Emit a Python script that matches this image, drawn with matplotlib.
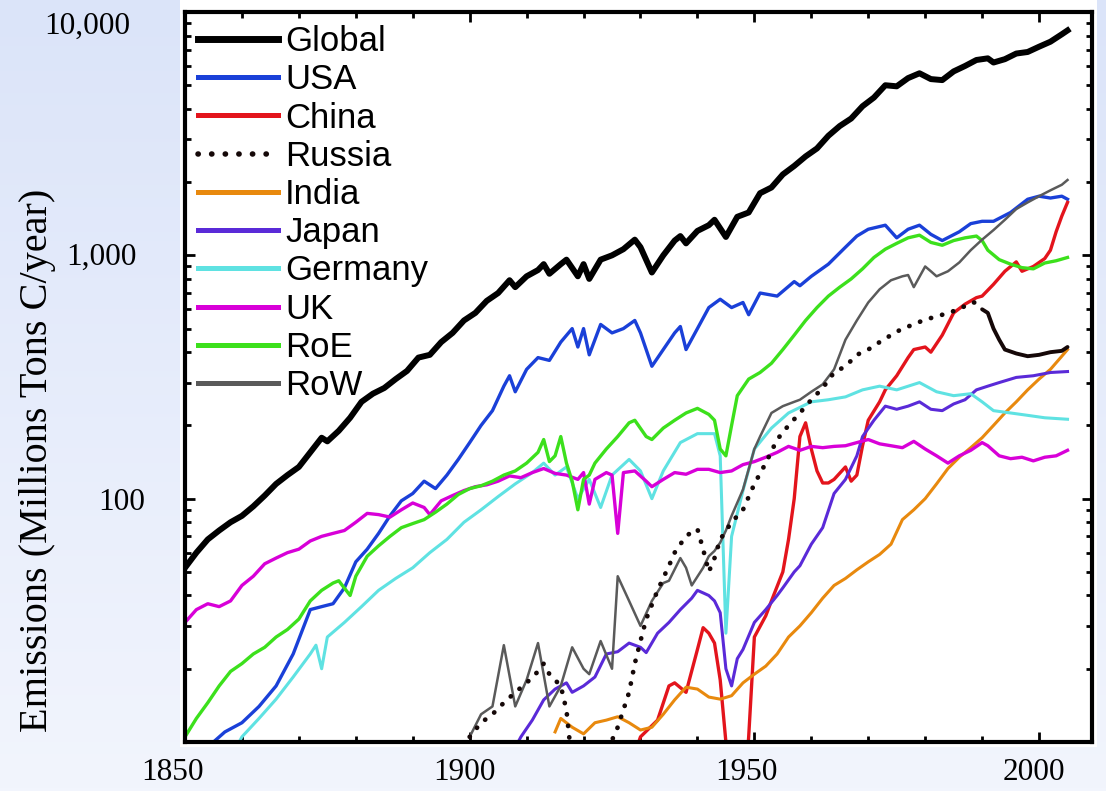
import numpy as np
import matplotlib
matplotlib.use("Agg")
import matplotlib.pyplot as plt
from matplotlib.ticker import FixedLocator, MultipleLocator, LogLocator, NullFormatter
from matplotlib.transforms import ScaledTranslation
from matplotlib.patches import Rectangle

# ---------------- fossil-fuel carbon emissions, MtC per year ----------------
global_years = [1850, 1852, 1854, 1856, 1858, 1860, 1862, 1864, 1866, 1868, 1870, 1872, 1874, 1875,
                1877, 1879, 1881, 1883, 1885, 1887, 1889, 1891, 1893, 1895, 1897, 1899, 1901, 1903,
                1905, 1907, 1908, 1910, 1912, 1913, 1914, 1916, 1917, 1919, 1920, 1921, 1923, 1925,
                1927, 1929, 1930, 1932, 1934, 1936, 1937, 1938, 1940, 1942, 1943, 1945, 1947, 1949,
                1951, 1953, 1955, 1957, 1959, 1961, 1963, 1965, 1967, 1969, 1971, 1973, 1975, 1977,
                1979, 1981, 1983, 1985, 1987, 1989, 1991, 1992, 1994, 1996, 1998, 2000, 2002, 2004, 2005]
global_vals = [52, 60, 68, 74, 80, 85, 93, 103, 115, 125, 135, 155, 178, 172,
               190, 215, 250, 270, 285, 310, 335, 380, 390, 440, 480, 540, 580, 650,
               700, 790, 740, 820, 870, 920, 840, 920, 960, 820, 920, 800, 960, 1000,
               1060, 1160, 1080, 850, 1000, 1150, 1200, 1120, 1260, 1330, 1400, 1190, 1440, 1500,
               1800, 1900, 2150, 2330, 2550, 2750, 3100, 3400, 3650, 4100, 4450, 5000, 4950, 5350,
               5600, 5300, 5250, 5700, 6000, 6350, 6450, 6200, 6400, 6750, 6850, 7200, 7550, 8100, 8400]

usa_years = [1853, 1855, 1857, 1860, 1863, 1866, 1869, 1872, 1874, 1876, 1878, 1880, 1882, 1884,
             1886, 1888, 1890, 1892, 1894, 1896, 1898, 1900, 1902, 1904, 1906, 1907, 1908, 1910,
             1912, 1914, 1916, 1918, 1919, 1920, 1921, 1923, 1925, 1927, 1929, 1930, 1932, 1934,
             1936, 1937, 1938, 1940, 1942, 1944, 1946, 1948, 1949, 1951, 1954, 1957, 1958, 1960,
             1963, 1966, 1968, 1970, 1973, 1975, 1977, 1979, 1981, 1983, 1986, 1988, 1990, 1992,
             1995, 1998, 2000, 2002, 2004, 2005]
usa_vals = [9, 10, 11, 12, 14, 17, 23, 35, 36, 37, 43, 55, 62, 72,
            85, 98, 105, 118, 110, 125, 145, 170, 200, 230, 290, 320, 275, 340,
            380, 370, 440, 500, 420, 500, 390, 520, 480, 500, 540, 480, 350, 410,
            480, 510, 410, 500, 610, 660, 610, 640, 570, 700, 680, 780, 750, 820,
            920, 1080, 1200, 1280, 1330, 1180, 1280, 1330, 1220, 1150, 1250, 1350, 1380, 1380,
            1500, 1700, 1750, 1720, 1750, 1700]

china_years = [1929, 1930, 1933, 1935, 1936, 1938, 1940, 1941, 1942, 1943, 1944, 1945, 1946, 1948,
               1949, 1950, 1952, 1953, 1955, 1956, 1957, 1958, 1959, 1960, 1961, 1962, 1963, 1964,
               1966, 1967, 1968, 1969, 1970, 1972, 1973, 1975, 1977, 1978, 1980, 1981, 1983, 1985,
               1987, 1989, 1990, 1992, 1994, 1996, 1997, 1999, 2001, 2002, 2003, 2004, 2005]
china_vals = [9, 10.5, 12.3, 17, 17.5, 16, 24, 29.5, 28, 25.5, 18, 10, 5, 5,
              10.5, 27, 33, 38, 50, 68, 100, 180, 205, 160, 130, 116, 116, 120,
              135, 118, 125, 165, 210, 250, 280, 320, 380, 410, 420, 400, 470, 580,
              630, 670, 680, 760, 860, 940, 860, 900, 970, 1050, 1250, 1450, 1650]

russia_years = [1900, 1902, 1904, 1906, 1908, 1910, 1912, 1913, 1914, 1916, 1917, 1918, 1921, 1924,
                1926, 1928, 1929, 1930, 1931, 1933, 1935, 1936, 1937, 1938, 1939, 1940, 1941, 1942,
                1943, 1944, 1946, 1948, 1950, 1952, 1954, 1956, 1958, 1960, 1962, 1964, 1966, 1968,
                1970, 1972, 1974, 1976, 1978, 1980, 1982, 1984, 1986, 1988, 1989, 1990, 1991, 1992,
                1993, 1994, 1996, 1998, 2000, 2002, 2004, 2005]
russia_vals = [10.5, 12, 13, 14.5, 16, 17.5, 19.5, 21, 19, 17, 13.5, 8, 6, 9,
               11.5, 16, 21, 26, 32, 42, 53, 60, 65, 70, 73, 75, 62, 50,
               57, 68, 80, 90, 115, 140, 175, 200, 225, 255, 285, 330, 350, 390,
               410, 440, 470, 500, 520, 545, 560, 580, 600, 640, 640, 600, 580, 500,
               450, 410, 395, 385, 390, 400, 405, 420]

india_years = [1915, 1916, 1918, 1920, 1922, 1924, 1926, 1928, 1930, 1932, 1934, 1936, 1938, 1940,
               1942, 1944, 1946, 1948, 1950, 1952, 1954, 1956, 1958, 1960, 1962, 1964, 1966, 1968,
               1970, 1972, 1974, 1976, 1978, 1980, 1982, 1984, 1986, 1988, 1990, 1992, 1994, 1996,
               1998, 2000, 2002, 2004, 2005]
india_vals = [11, 12.5, 11.5, 10.8, 12, 12.3, 12.7, 12, 11.2, 11.5, 13, 14.9, 16.8, 16.5,
              15.3, 15, 15.5, 17.5, 19, 20.5, 23, 27, 30, 34, 39, 44, 47, 51,
              55, 59, 65, 82, 90, 100, 115, 133, 148, 162, 178, 200, 225, 250,
              280, 310, 340, 385, 410]

japan_years = [1908, 1909, 1911, 1913, 1915, 1917, 1918, 1920, 1922, 1924, 1926, 1928, 1930, 1931,
               1933, 1935, 1937, 1939, 1940, 1941, 1942, 1943, 1944, 1945, 1946, 1947, 1948, 1950,
               1952, 1954, 1955, 1957, 1958, 1960, 1962, 1964, 1966, 1968, 1969, 1971, 1973, 1975,
               1977, 1979, 1981, 1983, 1985, 1987, 1989, 1991, 1993, 1996, 1999, 2002, 2005]
japan_vals = [9.5, 10.5, 12.3, 14.9, 16.5, 17.5, 16, 17, 18.5, 23, 23.5, 25.5, 24.5, 23.3,
              28, 31, 35, 39, 42, 41, 40, 38, 34, 20, 17, 22, 24, 31,
              35, 40, 43, 50, 53, 65, 76, 105, 120, 150, 180, 210, 240, 233,
              240, 250, 233, 230, 245, 255, 280, 290, 300, 315, 320, 330, 333]

germany_years = [1859, 1860, 1863, 1866, 1869, 1872, 1873, 1874, 1875, 1878, 1881, 1884, 1887, 1890,
                 1893, 1896, 1899, 1902, 1905, 1908, 1911, 1913, 1915, 1917, 1919, 1921, 1923, 1925,
                 1928, 1930, 1932, 1934, 1937, 1940, 1943, 1944, 1945, 1946, 1948, 1950, 1953, 1956,
                 1960, 1963, 1966, 1969, 1972, 1975, 1979, 1982, 1985, 1988, 1990, 1992, 1995, 1998,
                 2001, 2005]
germany_vals = [9.5, 10.5, 12.5, 15, 18.5, 23, 25, 20, 27, 31, 36, 42, 47, 52,
                60, 68, 80, 90, 102, 115, 128, 140, 125, 135, 100, 120, 92, 125,
                145, 130, 100, 130, 170, 185, 185, 150, 28, 70, 108, 160, 195, 225,
                250, 255, 262, 280, 290, 280, 300, 275, 265, 270, 250, 230, 225, 220,
                215, 212]

uk_years = [1850, 1852, 1854, 1856, 1858, 1860, 1862, 1864, 1866, 1868, 1870, 1872, 1874, 1876,
            1878, 1880, 1882, 1884, 1886, 1888, 1890, 1892, 1893, 1895, 1897, 1899, 1901, 1903,
            1905, 1907, 1909, 1911, 1913, 1915, 1917, 1919, 1920, 1921, 1922, 1924, 1925, 1926,
            1927, 1929, 1931, 1932, 1934, 1936, 1938, 1940, 1942, 1944, 1946, 1948, 1950, 1952,
            1954, 1956, 1958, 1960, 1962, 1964, 1966, 1968, 1970, 1972, 1974, 1976, 1978, 1980,
            1982, 1984, 1986, 1988, 1990, 1991, 1993, 1995, 1997, 1999, 2001, 2003, 2005]
uk_vals = [31, 35, 37, 36, 38, 44, 48, 54, 57, 60, 62, 67, 70, 72,
           74, 80, 87, 86, 84, 90, 96, 92, 86, 98, 103, 108, 112, 114,
           118, 124, 122, 128, 133, 127, 125, 120, 128, 95, 120, 128, 125, 72,
           128, 130, 118, 112, 120, 128, 126, 132, 132, 128, 130, 138, 142, 148,
           155, 164, 158, 164, 162, 164, 165, 170, 175, 168, 165, 162, 172, 160,
           150, 140, 150, 158, 170, 165, 150, 146, 148, 143, 148, 150, 158]

roe_years = [1850, 1852, 1854, 1856, 1858, 1860, 1862, 1864, 1866, 1868, 1870, 1872, 1874, 1876,
             1877, 1879, 1880, 1882, 1884, 1886, 1888, 1890, 1892, 1894, 1896, 1898, 1900, 1902,
             1904, 1906, 1908, 1910, 1912, 1913, 1914, 1915, 1916, 1917, 1918, 1919, 1920, 1921,
             1922, 1924, 1926, 1928, 1929, 1931, 1932, 1934, 1936, 1938, 1940, 1942, 1943, 1944,
             1945, 1946, 1947, 1949, 1951, 1953, 1955, 1957, 1959, 1961, 1963, 1965, 1967, 1969,
             1971, 1973, 1975, 1977, 1979, 1981, 1983, 1985, 1987, 1989, 1990, 1991, 1993, 1995,
             1997, 1999, 2001, 2003, 2005]
roe_vals = [10.5, 12.5, 14.5, 17, 19.5, 21, 23, 24.5, 27, 29, 32, 38, 42, 45,
            46, 40, 48, 58, 64, 70, 76, 79, 82, 88, 95, 104, 110, 113,
            118, 125, 130, 140, 155, 175, 142, 150, 180, 140, 118, 90, 120, 125,
            140, 160, 180, 205, 210, 180, 175, 195, 210, 225, 235, 222, 210, 160,
            150, 200, 265, 310, 330, 360, 410, 470, 540, 610, 680, 740, 800, 880,
            980, 1060, 1120, 1180, 1210, 1130, 1100, 1150, 1180, 1200, 1150, 1050, 960, 920,
            890, 880, 930, 950, 980]

row_years = [1900, 1902, 1904, 1906, 1908, 1910, 1912, 1914, 1916, 1918, 1920, 1921, 1923, 1925,
             1926, 1928, 1930, 1932, 1934, 1935, 1937, 1938, 1939, 1941, 1942, 1943, 1944, 1945,
             1946, 1948, 1950, 1951, 1953, 1955, 1957, 1958, 1960, 1962, 1964, 1966, 1968, 1970,
             1972, 1974, 1976, 1977, 1978, 1980, 1981, 1982, 1984, 1986, 1988, 1990, 1992, 1994,
             1996, 1998, 2000, 2002, 2004, 2005]
row_vals = [10.5, 13, 14, 25, 14, 18, 25.5, 14, 17, 24.5, 20, 19, 26, 20,
            48, 38, 30, 38, 45, 46, 57, 52, 44, 52, 58, 61, 66, 74,
            85, 109, 160, 180, 225, 240, 250, 255, 275, 295, 340, 450, 540, 640,
            725, 790, 820, 830, 740, 900, 860, 820, 860, 935, 1050, 1160, 1270, 1400,
            1550, 1650, 1750, 1850, 1950, 2040]

x_tick_labels = ["1850", "1900", "1950", "2000"]
y_tick_labels = ["100", "1,000", "10,000"]
y_axis_title = "Emissions (Millions Tons C/year)"

# ---------------- figure ----------------
W, H = 1106, 791
fig = plt.figure(figsize=(W / 100, H / 100), dpi=100)

# pale blue slide background with a white panel behind the chart
bg = fig.add_axes([0, 0, 1, 1], zorder=-10)
t = np.linspace(0, 1, 256)[:, None, None]
top_c = np.array([0xdb, 0xe4, 0xf9]) / 255
bot_c = np.array([0xf2, 0xf5, 0xfd]) / 255
grad = top_c[None, None, :] * (1 - t) + bot_c[None, None, :] * t
bg.imshow(np.repeat(grad, 4, axis=1), aspect="auto", extent=[0, 1, 0, 1], origin="upper")
bg.add_patch(Rectangle((180 / W, 1 - 747 / H), (1097 - 180) / W, 747 / H,
                       facecolor="white", edgecolor="none"))
bg.set_xlim(0, 1)
bg.set_ylim(0, 1)
bg.axis("off")

ax = fig.add_axes([185 / W, 1 - 742 / H, (1092 - 185) / W, (742 - 12) / H])
ax.set_facecolor("white")

series = [
    ("Global", global_years, global_vals, "#000000", 4.3),
    ("USA", usa_years, usa_vals, "#1a40d8", 2.4),
    ("China", china_years, china_vals, "#e3141c", 2.4),
    ("Russia", None, None, "#150808", 3.4),
    ("India", india_years, india_vals, "#e8890e", 2.2),
    ("Japan", japan_years, japan_vals, "#5a2ad8", 2.2),
    ("Germany", germany_years, germany_vals, "#5fe2e2", 2.2),
    ("UK", uk_years, uk_vals, "#d800d8", 2.4),
    ("RoE", roe_years, roe_vals, "#3ce01c", 2.4),
    ("RoW", row_years, row_vals, "#5a5a5a", 1.8),
]

handles = []
for name, yrs, vals, col, lw in series:
    if name == "Russia":
        ry = np.array(russia_years)
        rv = np.array(russia_vals)
        early = ry <= 1990
        late = ry >= 1990
        h, = ax.plot(ry[early], rv[early], color=col, lw=lw, ls=(0, (0.05, 2.4)),
                     dash_capstyle="round", label=name, zorder=3)
        ax.plot(ry[late], rv[late], color=col, lw=2.8, solid_capstyle="round", zorder=3)
    else:
        h, = ax.plot(yrs, vals, color=col, lw=lw, label=name,
                     zorder=4 if name == "Global" else 2)
    handles.append(h)

ax.set_yscale("log")
ax.set_xlim(1850, 2009.3)
ax.set_ylim(10, 10000)

ax.xaxis.set_major_locator(FixedLocator([1850, 1900, 1950, 2000]))
ax.xaxis.set_minor_locator(MultipleLocator(10))
ax.yaxis.set_major_locator(LogLocator(base=10, numticks=10))
ax.yaxis.set_minor_locator(LogLocator(base=10, subs=np.arange(2, 10), numticks=20))
ax.yaxis.set_minor_formatter(NullFormatter())
ax.tick_params(which="both", direction="in", top=True, right=True,
               labelbottom=False, labelleft=False, width=2.0, color="black")
ax.tick_params(which="major", length=7)
ax.tick_params(which="minor", length=4)
for sp in ax.spines.values():
    sp.set_linewidth(3.0)

# axis labels set on the slide in a serif face
serif = ["Liberation Serif", "DejaVu Serif"]
x_offsets = [-13, -5, -8, -5]
for yr, lab, dx in zip([1850, 1900, 1950, 2000], x_tick_labels, x_offsets):
    ax.text(yr, 0, lab, transform=ax.get_xaxis_transform()
            + ScaledTranslation(dx / 100, -30 / 100, fig.dpi_scale_trans),
            ha="center", va="center", fontsize=22.5, family=serif, clip_on=False)

y_offsets = [(-40, -4), (-48, -2), (-55, -14)]
for val, lab, (dx, dy) in zip([100, 1000, 10000], y_tick_labels, y_offsets):
    ax.text(0, val, lab, transform=ax.get_yaxis_transform()
            + ScaledTranslation(dx / 100, dy / 100, fig.dpi_scale_trans),
            ha="right", va="center", fontsize=22.5, family=serif, clip_on=False)

fig.text(38 / W, 1 - 460 / H, y_axis_title, rotation=90, ha="center", va="center",
         fontsize=29, family=serif)

leg = ax.legend(handles=handles, loc="upper left", frameon=False,
                prop={"family": "Liberation Sans", "size": 25},
                handlelength=2.3, handletextpad=0.2, labelspacing=0.15,
                borderaxespad=0.18, borderpad=0.2)
for lh, (name, *_rest) in zip(leg.legend_handles, series):
    if name == "Global":
        lh.set_linewidth(5.0)
    elif name == "Russia":
        lh.set_linewidth(4.0)
    else:
        lh.set_linewidth(3.6)

fig.savefig("out.png", dpi=100)
